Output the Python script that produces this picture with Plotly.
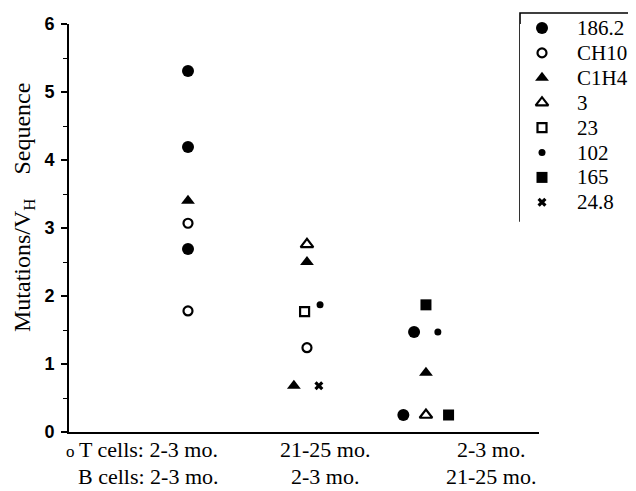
import plotly.graph_objects as go

# ---- data ----
series_names = ["186.2", "CH10", "C1H4", "3", "23", "102", "165", "24.8"]
# group index (1,2,3), small horizontal offset within the group, and y value
s_186_2_grp = [1, 1, 1, 3, 3]
s_186_2_off = [0, 0, 0, -0.10, -0.19]
s_186_2_val = [5.31, 4.19, 2.69, 1.47, 0.25]

s_ch10_grp = [1, 1, 2]
s_ch10_off = [0, 0, 0]
s_ch10_val = [3.07, 1.78, 1.24]

s_c1h4_grp = [1, 2, 2, 3]
s_c1h4_off = [0, 0, -0.11, 0]
s_c1h4_val = [3.40, 2.50, 0.68, 0.87]

s_3_grp = [2, 3]
s_3_off = [0, 0]
s_3_val = [2.76, 0.25]

s_23_grp = [2]
s_23_off = [-0.02]
s_23_val = [1.77]

s_102_grp = [2, 3]
s_102_off = [0.11, 0.10]
s_102_val = [1.87, 1.47]

s_165_grp = [3, 3]
s_165_off = [0, 0.19]
s_165_val = [1.87, 0.25]

s_24_8_grp = [2]
s_24_8_off = [0.10]
s_24_8_val = [0.68]

x_label_pos = [0.672, 2.15, 3.546]
x_label_line1 = ["T cells: 2-3 mo.", "21-25 mo.", "2-3 mo."]
x_label_line2 = ["B cells: 2-3 mo.", "2-3 mo.", "21-25 mo."]
y_ticks = [0, 1, 2, 3, 4, 5, 6]

markers = [
    dict(symbol="circle", size=12, color="black"),
    dict(symbol="circle-open", size=9, color="black", line=dict(width=2.2, color="black")),
    dict(symbol="triangle-up", size=12, color="black"),
    dict(symbol="triangle-up-open", size=11, color="black", line=dict(width=2.2, color="black")),
    dict(symbol="square-open", size=9, color="black", line=dict(width=2.2, color="black")),
    dict(symbol="circle", size=7, color="black"),
    dict(symbol="square", size=11, color="black"),
    dict(symbol="x", size=8, color="black", line=dict(width=0)),
]
series = [
    (s_186_2_grp, s_186_2_off, s_186_2_val),
    (s_ch10_grp, s_ch10_off, s_ch10_val),
    (s_c1h4_grp, s_c1h4_off, s_c1h4_val),
    (s_3_grp, s_3_off, s_3_val),
    (s_23_grp, s_23_off, s_23_val),
    (s_102_grp, s_102_off, s_102_val),
    (s_165_grp, s_165_off, s_165_val),
    (s_24_8_grp, s_24_8_off, s_24_8_val),
]

serif = "Liberation Serif"
sans = "Liberation Sans"

# layout geometry (page has an 8px body margin)
W, H = 628, 483
ML, MT, MB = 61, 16, 59
PLOT_W = 470
PAPER_W = W - ML
PLOT_H = H - MT - MB
LEG_LEFT = 512          # px in figure
LEG_TOP = 5
LEG_BOTTOM = 213
LEG_ROW0 = 20
LEG_ROW_STEP = 24.9
LEG_SYM_X = 22
LEG_TXT_X = 55

fig = go.Figure()
for (grp, off, val), mk, name in zip(series, markers, series_names):
    fig.add_trace(go.Scatter(
        x=[g + o for g, o in zip(grp, off)], y=val, mode="markers",
        name=name, marker=mk, showlegend=False, cliponaxis=False,
        xaxis="x", yaxis="y"))

# manual legend (markers on a hidden pixel axis)
annotations = []
for i, (mk, name) in enumerate(zip(markers, series_names)):
    ry = LEG_ROW0 - MT + LEG_ROW_STEP * i
    fig.add_trace(go.Scatter(x=[LEG_SYM_X], y=[ry], mode="markers", marker=mk,
                             showlegend=False, cliponaxis=False, xaxis="x2", yaxis="y2",
                             hoverinfo="skip"))
    annotations.append(dict(x=LEG_TXT_X, y=ry, xref="x2", yref="y2", text=name,
                            showarrow=False, xanchor="left", yanchor="middle",
                            font=dict(family=serif, size=21, color="black")))

def px_x(px):
    return (px - ML) / PAPER_W

def px_y(py):
    return 1 - (py - MT) / PLOT_H

fig.add_shape(type="rect", xref="paper", yref="paper",
              x0=px_x(LEG_LEFT), x1=px_x(W + 40), y0=px_y(LEG_BOTTOM), y1=px_y(LEG_TOP),
              line=dict(color="black", width=1.6), fillcolor="rgba(0,0,0,0)", layer="below")

for xp, l1, l2 in zip(x_label_pos, x_label_line1, x_label_line2):
    annotations.append(dict(x=xp, y=-0.0074, xref="x", yref="paper", text=l1,
                            showarrow=False, xanchor="center", yanchor="top",
                            font=dict(family=serif, size=22, color="black")))
    annotations.append(dict(x=xp, y=-0.0735, xref="x", yref="paper", text=l2,
                            showarrow=False, xanchor="center", yanchor="top",
                            font=dict(family=serif, size=22, color="black")))
annotations.append(dict(x=px_x(62), y=px_y(432), xref="paper", yref="paper", text="o",
                        showarrow=False, xanchor="center", yanchor="top",
                        font=dict(family=serif, size=17, color="black")))
annotations.append(dict(x=px_x(16), y=px_y(200), xref="paper", yref="paper",
                        text="Mutations/V<sub>H</sub>\u00a0\u00a0\u00a0\u00a0Sequence",
                        textangle=-90, showarrow=False, xanchor="center", yanchor="middle",
                        font=dict(family=serif, size=24, color="black")))

fig.update_layout(
    width=W, height=H,
    margin=dict(l=ML, r=0, t=MT, b=MB, autoexpand=False),
    paper_bgcolor="white", plot_bgcolor="white",
    font=dict(family=serif, color="black"),
    showlegend=False,
    annotations=annotations,
    xaxis=dict(domain=[0, PLOT_W / PAPER_W], range=[0, 3.95], showgrid=False, zeroline=False,
               showline=True, linecolor="black", linewidth=2, showticklabels=False, ticks=""),
    yaxis=dict(range=[0, 6], tickvals=y_ticks, showgrid=False, zeroline=False,
               showline=True, linecolor="black", linewidth=1.8,
               ticks="outside", ticklen=6, tickwidth=1.5, tickcolor="black",
               minor=dict(dtick=0.5, ticks="outside", ticklen=4, tickwidth=1.2, tickcolor="black"),
               tickfont=dict(family=sans, size=18, color="black", weight="bold"),
               ticklabelstandoff=3),
    xaxis2=dict(domain=[px_x(LEG_LEFT), 1], range=[0, W - LEG_LEFT], visible=False,
                anchor="y2"),
    yaxis2=dict(domain=[0, 1], range=[PLOT_H, 0], visible=False, anchor="x2"),
)

fig.write_html("out.html")
